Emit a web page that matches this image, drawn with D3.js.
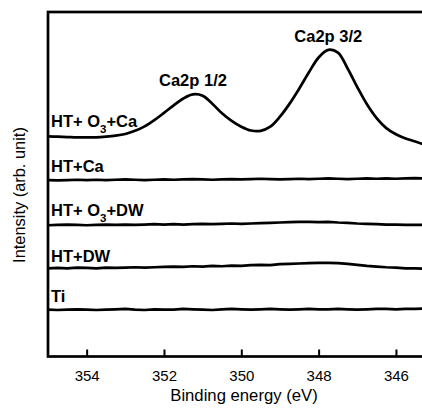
<!DOCTYPE html>
<meta charset="utf-8">
<style>
body { margin: 0; background: #fff; }
text { font-family: Arial, "Liberation Sans", sans-serif; fill: #000; }
.lbl { font-weight: bold; font-size: 16.5px; }
.curve { fill: none; stroke: #000; stroke-width: 2.7px; stroke-linejoin: round; }
</style>
<svg width="422" height="408"></svg>
<script src="https://d3js.org/d3.v7.min.js"></script>
<script>

// binding energy grid (eV)
var energy = [355, 354.75, 354.5, 354.25, 354, 353.75, 353.5, 353.25, 353, 352.75,
  352.5, 352.25, 352, 351.75, 351.5, 351.25, 351, 350.75, 350.5, 350.25,
  350, 349.75, 349.5, 349.25, 349, 348.75, 348.5, 348.25, 348, 347.75,
  347.5, 347.25, 347, 346.75, 346.5, 346.25, 346, 345.75, 345.5, 345.25];

// intensities (arb. unit, stacked offsets)
var htO3Ca = [63.9, 63.8, 63.7, 63.6, 63.6, 63.6, 63.8, 64.1, 64.6, 65.5,
  66.8, 68.6, 70.7, 72.9, 74.9, 76.1, 75.7, 73.4, 70.6, 68.4,
  66.7, 65.6, 65.5, 66.7, 69.6, 73.4, 77.8, 82.5, 86.8, 89.0,
  88.2, 83.6, 78.2, 73.2, 69.2, 66.3, 64.5, 63.3, 62.4, 61.4];
var htCa = [51.2, 51.1, 51.2, 51.3, 51.2, 51.3, 51.2, 51.3, 51.4, 51.3,
  51.2, 51.3, 51.4, 51.3, 51.4, 51.5, 51.4, 51.3, 51.4, 51.5,
  51.4, 51.5, 51.6, 51.5, 51.4, 51.5, 51.6, 51.5, 51.6, 51.7,
  51.6, 51.5, 51.6, 51.7, 51.6, 51.7, 51.6, 51.7, 51.8, 51.7];
var htO3DW = [38.1, 38.2, 38.3, 38.2, 38.1, 38.2, 38.3, 38.2, 38.3, 38.2,
  38.3, 38.4, 38.3, 38.4, 38.3, 38.4, 38.5, 38.4, 38.5, 38.6,
  38.5, 38.6, 38.7, 38.8, 38.9, 39.0, 39.1, 39.1, 39.0, 39.1,
  38.9, 38.8, 38.6, 38.5, 38.4, 38.3, 38.3, 38.2, 38.2, 38.2];
var htDW = [25.6, 25.7, 25.6, 25.8, 25.7, 25.6, 25.8, 25.7, 25.8, 25.9,
  25.8, 25.9, 26.0, 26.1, 26.0, 26.2, 26.1, 26.3, 26.2, 26.4,
  26.3, 26.5, 26.6, 26.5, 26.8, 26.9, 27.0, 27.1, 27.2, 27.2,
  27.1, 26.9, 26.6, 26.3, 26.1, 25.9, 25.8, 25.6, 25.6, 25.5];
var ti = [13.6, 13.5, 13.6, 13.7, 13.6, 13.5, 13.6, 13.7, 13.8, 13.6,
  13.5, 13.7, 13.6, 13.6, 13.8, 13.7, 13.6, 13.5, 13.7, 13.8,
  13.7, 13.6, 13.7, 13.8, 13.7, 13.6, 13.7, 13.8, 13.7, 13.7,
  13.8, 13.7, 13.6, 13.7, 13.8, 13.8, 13.7, 13.8, 13.8, 13.9];

var xTicks = [354, 352, 350, 348, 346];
var peakNames = ["Ca2p 1/2", "Ca2p 3/2"];
var peakRanges = [[352, 350.5], [348.5, 347]];

var series = [
  { name: ["HT+ O", "3", "+Ca"], values: htO3Ca, dy: 9, smooth: true },
  { name: ["HT+Ca"], values: htCa, dy: 8 },
  { name: ["HT+ O", "3", "+DW"], values: htO3DW, dy: 9 },
  { name: ["HT+DW"], values: htDW, dy: 6 },
  { name: ["Ti"], values: ti, dy: 8 }
];

var svg = d3.select("svg"),
    margin = { top: 12, left: 48, bottom: 356.5 };

var x = d3.scaleLinear().domain([355, 345]).range([48, 434.6]);
var y = d3.scaleLinear().domain([0, 100]).range([margin.bottom, margin.top]);

// frame
svg.append("rect")
    .attr("x", x(355)).attr("y", margin.top)
    .attr("width", 440 - x(355)).attr("height", margin.bottom - margin.top)
    .attr("fill", "none").attr("stroke", "#000").attr("stroke-width", 2.7);

// bottom axis, ticks inward
var axis = svg.append("g")
    .attr("transform", "translate(0," + margin.bottom + ")")
    .call(d3.axisBottom(x).tickValues(xTicks).tickSize(-7).tickPadding(14));
axis.select(".domain").remove();
axis.selectAll(".tick line").attr("stroke-width", 2);
axis.selectAll(".tick text")
    .attr("font-family", "Arial, 'Liberation Sans', sans-serif")
    .attr("font-size", 15);

svg.append("text")
    .attr("x", 244).attr("y", 401)
    .attr("text-anchor", "middle")
    .attr("font-size", 16.7)
    .text("Binding energy (eV)");

svg.append("text")
    .attr("transform", "translate(25,195) rotate(-90)")
    .attr("text-anchor", "middle")
    .attr("font-size", 16.4)
    .text("Intensity (arb. unit)");

var line = d3.line()
    .x(function(d, i) { return x(energy[i]); })
    .y(function(d) { return y(d); });

series.forEach(function(s) {
  svg.append("path")
      .attr("class", "curve")
      .attr("d", line.curve(s.smooth ? d3.curveCatmullRom : d3.curveLinear)(s.values));

  var t = svg.append("text")
      .attr("class", "lbl")
      .attr("x", x(355) + 3)
      .attr("y", y(s.values[0]) - s.dy);
  t.append("tspan").text(s.name[0]);
  if (s.name.length > 1) {
    t.append("tspan").attr("dy", 6).attr("font-size", 11.5).text(s.name[1]);
    t.append("tspan").attr("dy", -6).text(s.name[2]);
  }
});

// peak labels above maxima
peakNames.forEach(function(p, k) {
  var best = -1, bi = 0;
  energy.forEach(function(e, i) {
    if (e <= peakRanges[k][0] && e >= peakRanges[k][1] && htO3Ca[i] > best) { best = htO3Ca[i]; bi = i; }
  });
  svg.append("text")
      .attr("class", "lbl")
      .attr("x", x(energy[bi]))
      .attr("y", y(best) - 8)
      .attr("text-anchor", "middle")
      .text(p);
});

</script>
